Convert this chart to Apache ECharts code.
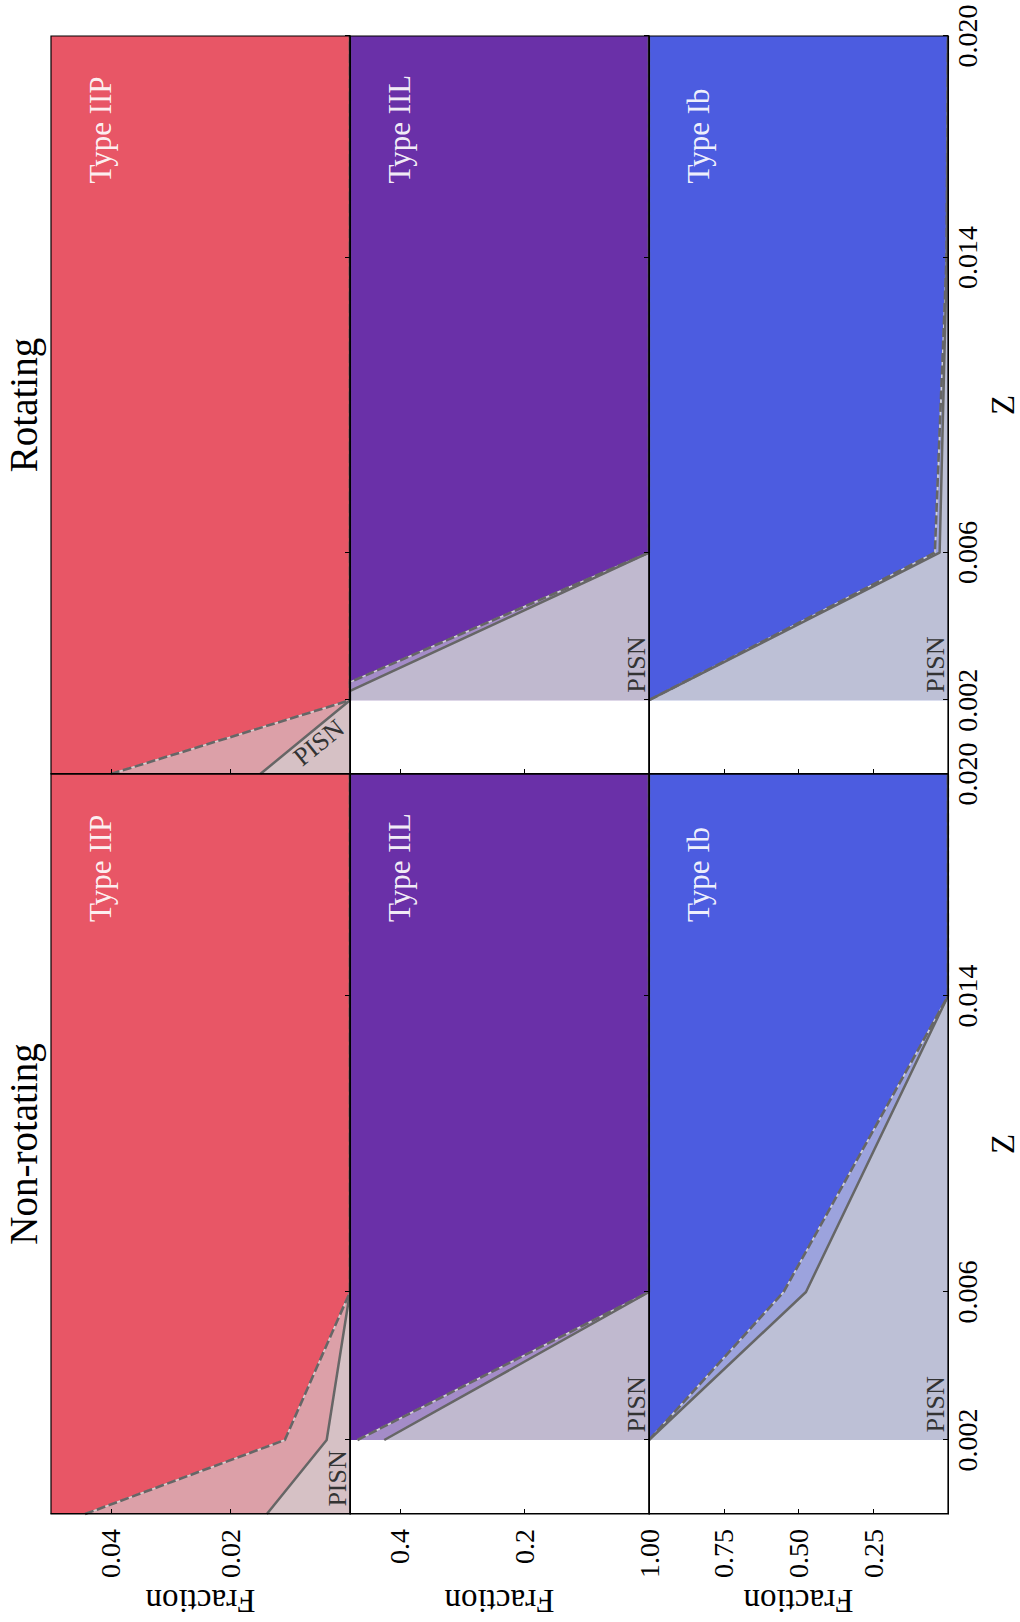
<!DOCTYPE html>
<html><head><meta charset="utf-8">
<script src="https://cdn.jsdelivr.net/npm/echarts@6/dist/echarts.min.js"></script>
<style>
html,body{margin:0;padding:0;background:#fff;width:1020px;height:1622px;overflow:hidden}
#chart{position:absolute;left:0;top:0;width:1622px;height:1020px;transform-origin:0 0;transform:translate(0,1622px) rotate(-90deg);background:#fff}
</style></head><body><div id="chart"></div>
<script>
// ---------------- data ----------------
const COLUMN_TITLES = ['Non-rotating', 'Rotating'];
const ROW_LABELS = ['Type IIP', 'Type IIL', 'Type Ib'];
const Z_TICKS = [0.002, 0.006, 0.014, 0.020];
const FRACTION_MAX = [0.05, 0.48, 1.0];
const FRACTION_TICKS = [[0.02, 0.04], [0.2, 0.4], [0.25, 0.5, 0.75, 1.0]];
const FRACTION_DECIMALS = [2, 1, 2];

// Non-rotating
const nrIIP_Z      = [0, 0.002, 0.006, 0.014, 0.020];
const nrIIP_solid  = [0.0139, 0.0039, 0, 0, 0];
const nrIIP_dashed = [0.0443, 0.0109, 0, 0, 0];
const nrIIL_Z      = [0.002, 0.006, 0.014, 0.020];
const nrIIL_solid  = [0.425, 0, 0, 0];
const nrIIL_dashed = [0.468, 0, 0, 0];
const nrIb_Z       = [0.002, 0.006, 0.014, 0.020];
const nrIb_solid   = [1.0, 0.475, 0, 0];
const nrIb_dashed  = [1.0, 0.55, 0, 0];
// Rotating
const rIIP_Z      = [0, 0.002, 0.006, 0.014, 0.020];
const rIIP_solid  = [0.015, 0, 0, 0, 0];
const rIIP_dashed = [0.040, 0, 0, 0, 0];
const rIIL_Z      = [0.002, 0.006, 0.014, 0.020];
const rIIL_solid  = [0.512, 0, 0, 0];
const rIIL_dashed = [0.547, 0, 0, 0];
const rIb_Z       = [0.002, 0.006, 0.014, 0.020];
const rIb_solid   = [1.0, 0.028, 0.004, 0];
const rIb_dashed  = [1.0, 0.044, 0.005, 0];

// ---------------- style ----------------
const FONT = '"Liberation Serif", "DejaVu Serif", serif';
const COLORS = [
  {main:'#E85666', mid:'#DCA0A8', pisn:'#D6C1C5'},
  {main:'#6A30A8', mid:'#A48CC8', pisn:'#C0B9CF'},
  {main:'#4C5CE0', mid:'#9CA3DD', pisn:'#BDC0D6'}
];
const COL_LEFT = [108, 848], COL_W = [740, 738];
const ROW_TOP = [51, 350, 649], ROW_H = 299;
const LINE_GRAY = '#666666';

const PANELS = [
  [ {z:nrIIP_Z, s:nrIIP_solid, d:nrIIP_dashed}, {z:rIIP_Z, s:rIIP_solid, d:rIIP_dashed} ],
  [ {z:nrIIL_Z, s:nrIIL_solid, d:nrIIL_dashed}, {z:rIIL_Z, s:rIIL_solid, d:rIIL_dashed} ],
  [ {z:nrIb_Z,  s:nrIb_solid,  d:nrIb_dashed},  {z:rIb_Z,  s:rIb_solid,  d:rIb_dashed} ]
];

const chart = echarts.init(document.getElementById('chart'), null, {renderer:'svg', width:1622, height:1020});

const grids = [], xAxes = [], yAxes = [], series = [];
for (let r = 0; r < 3; r++) {
  for (let c = 0; c < 2; c++) {
    const g = r * 2 + c;
    grids.push({left: COL_LEFT[c], top: ROW_TOP[r], width: COL_W[c], height: ROW_H, containLabel: false});
    xAxes.push({
      gridIndex: g, type: 'value', min: 0, max: 0.02, z: 10,
      axisLine: {show: true, onZero: false, lineStyle: {color: '#000', width: 1}},
      axisTick: {show: true, inside: true, length: 5, customValues: Z_TICKS, lineStyle: {color: '#000', width: 1}},
      axisLabel: {show: r === 2, customValues: Z_TICKS, formatter: v => v.toFixed(3),
        fontFamily: FONT, fontSize: 28, color: '#000', margin: 5},
      splitLine: {show: false},
      name: r === 2 ? 'Z' : '', nameLocation: 'middle', nameGap: 38,
      nameTextStyle: {fontFamily: FONT, fontSize: 33, color: '#000'}
    });
    yAxes.push({
      gridIndex: g, type: 'value', min: 0, max: FRACTION_MAX[r], z: 10,
      axisLine: {show: true, onZero: false, lineStyle: {color: '#000', width: 1}},
      axisTick: {show: true, inside: true, length: 5, customValues: FRACTION_TICKS[r], lineStyle: {color: '#000', width: 1}},
      axisLabel: {show: c === 0, customValues: FRACTION_TICKS[r], formatter: v => v.toFixed(FRACTION_DECIMALS[r]),
        fontFamily: FONT, fontSize: 28, color: '#000', margin: 15},
      splitLine: {show: false},
      name: c === 0 ? 'Fraction' : '', nameLocation: 'middle', nameRotate: 90, nameGap: 70,
      nameTextStyle: {fontFamily: FONT, fontSize: 33, color: '#000'}
    });
    const p = PANELS[r][c];
    const dashedPts = p.z.map((z, i) => [z, p.d[i]]);
    const solidPts = p.z.map((z, i) => [z, p.s[i]]);
    const base = {type: 'line', xAxisIndex: g, yAxisIndex: g, symbol: 'none', showSymbol: false, silent: true, animation: false, clip: true};
    series.push(Object.assign({}, base, {data: dashedPts, z: 1, lineStyle: {width: 0, opacity: 0}, areaStyle: {color: COLORS[r].mid, opacity: 1, origin: 'start'}}));
    series.push(Object.assign({}, base, {data: solidPts, z: 2, lineStyle: {width: 0, opacity: 0}, areaStyle: {color: COLORS[r].pisn, opacity: 1, origin: 'start'}}));
    series.push(Object.assign({}, base, {data: dashedPts, z: 3, lineStyle: {width: 0, opacity: 0}, areaStyle: {color: COLORS[r].main, opacity: 1, origin: 'end'}}));
    series.push(Object.assign({}, base, {data: dashedPts, z: 4, lineStyle: {color: '#d4d4d4', width: 1.5}}));
    series.push(Object.assign({}, base, {data: dashedPts, z: 5, lineStyle: {color: LINE_GRAY, width: 2.6, type: [9, 3.5]}}));
    series.push(Object.assign({}, base, {data: solidPts, z: 6, lineStyle: {color: LINE_GRAY, width: 2.5}}));
  }
}

chart.setOption({
  backgroundColor: '#fff',
  animation: false,
  grid: grids, xAxis: xAxes, yAxis: yAxes, series: series
});

// ---------------- annotations ----------------
const els = [];
const px = (g, pt) => chart.convertToPixel({xAxisIndex: g, yAxisIndex: g}, pt);
for (let c = 0; c < 2; c++) {
  els.push({type: 'text', x: COL_LEFT[c] + COL_W[c] / 2, y: 4, z: 100, silent: true,
    style: {text: COLUMN_TITLES[c], font: '39px ' + FONT, fill: '#000', align: 'center', verticalAlign: 'top'}});
}
for (let r = 0; r < 3; r++) {
  for (let c = 0; c < 2; c++) {
    const g = r * 2 + c;
    const tp = px(g, [0.016, 0]);
    els.push({type: 'text', x: tp[0], y: ROW_TOP[r] + 34, z: 100, silent: true,
      style: {text: ROW_LABELS[r], font: '31px ' + FONT, fill: 'rgba(255,255,255,0.93)', align: 'left', verticalAlign: 'top'}});
    if (r === 0 && c === 1) {
      const pp = px(g, [0.00085, 0.0052]);
      els.push({type: 'text', x: pp[0], y: pp[1], rotation: -0.89, z: 100, silent: true,
        style: {text: 'PISN', font: '26px ' + FONT, fill: '#333', align: 'center', verticalAlign: 'middle'}});
    } else {
      const pp = px(g, [r === 0 ? 0.0002 : 0.0022, 0]);
      els.push({type: 'text', x: pp[0], y: pp[1], z: 100, silent: true,
        style: {text: 'PISN', font: '26px ' + FONT, fill: '#333', align: 'left', verticalAlign: 'bottom'}});
    }
    els.push({type: 'rect', z: 90, silent: true,
      shape: {x: COL_LEFT[c], y: ROW_TOP[r], width: COL_W[c], height: ROW_H},
      style: {fill: 'none', stroke: '#000', lineWidth: 1.2}});
  }
}
chart.setOption({graphic: {elements: els}});
</script></body></html>
